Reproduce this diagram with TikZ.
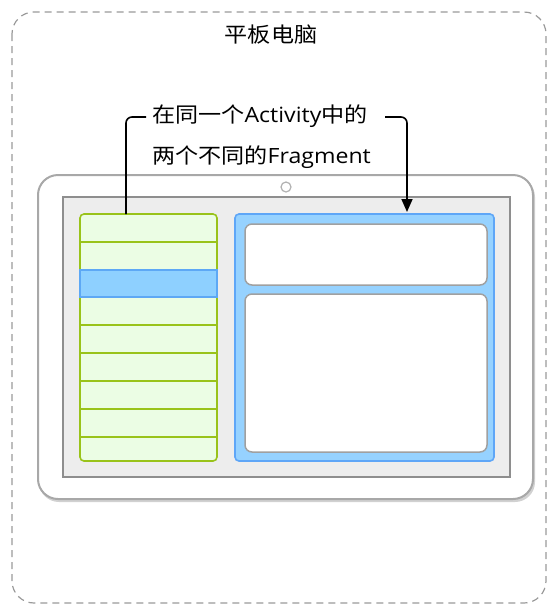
\documentclass[tikz,border=0pt]{standalone}
\usepackage{fontspec}
\newfontfamily\cjk{Noto Sans CJK SC}
\newfontfamily\lat{Open Sans}
\usetikzlibrary{arrows.meta}
\definecolor{dashgray}{HTML}{9A9A9A}
\definecolor{tabborder}{HTML}{A8A8A8}
\definecolor{scrborder}{HTML}{8E8E8E}
\definecolor{scrfill}{HTML}{EDEDED}
\definecolor{listgreen}{HTML}{99C31A}
\definecolor{listfill}{HTML}{EBFDE4}
\definecolor{selblue}{HTML}{5DA8F5}
\definecolor{selfill}{HTML}{8ED0FF}
\definecolor{paneborder}{HTML}{5EA6F7}
\definecolor{panefill}{HTML}{96D2FF}
\definecolor{boxborder}{HTML}{A0A0A0}
\newcommand{\wide}[1]{\scalebox{1.1}[1]{#1}}
\tikzset{
  outerbox/.style={draw=dashgray, dash pattern=on 7pt off 5pt, line width=1.2pt, rounded corners=22pt},
  tablet/.style={draw=tabborder, fill=white, line width=2pt, rounded corners=20pt},
  screen/.style={draw=scrborder, fill=scrfill, line width=2.5pt},
  listbox/.style={draw=listgreen, fill=listfill, line width=1.6pt, rounded corners=4pt},
  rowline/.style={draw=listgreen, line width=1.6pt},
  selrow/.style={draw=selblue, fill=selfill, line width=1.6pt},
  pane/.style={draw=paneborder, fill=panefill, line width=1.6pt, rounded corners=4pt},
  innerbox/.style={draw=boxborder, fill=white, line width=1.5pt, rounded corners=7pt},
  conn/.style={draw=black, line width=1.6pt, rounded corners=6pt},
  lbl/.style={font=\cjk\fontsize{21}{24}\selectfont, inner sep=0pt, anchor=west}
}
\begin{document}
\begin{tikzpicture}[x=1pt,y=-1pt]
\useasboundingbox (0,0) rectangle (550,606);
% outer dashed frame
\draw[outerbox] (12,12) rectangle (546,603);
\node[lbl, anchor=center] (title) at (271,35) {\wide{平板电脑}};
% tablet shadow and body
\draw[draw=none, fill=black!18, rounded corners=20pt] (39,177) rectangle (535,502);
\draw[tablet] (38,175) rectangle (533,499);
\draw[draw=gray!60, line width=1.2pt] (286,187) circle (5);
% screen
\draw[screen] (63,197) rectangle (510,477);
% list fragment
\draw[listbox] (80,214) rectangle (217,461);
\foreach \y in {242,325,353,381,409,437} {
  \draw[rowline] (80,\y) -- (218,\y);
}
\draw[selrow] (80,270) rectangle (217,297);
% detail fragment
\draw[pane] (235,214) rectangle (494,461);
\draw[innerbox] (245,224) rectangle (487,285);
\draw[innerbox] (245,294) rectangle (487,452);
% label
\node[lbl] (label1) at (152,116) {\wide{在同一个{\lat Activity}中的}};
\node[lbl] (label2) at (152,157) {\wide{两个不同的{\lat Fragment}}};
\coordinate (lstart) at (126,214);
\coordinate (lend) at (146,117);
\coordinate (rstart) at (385,117);
\coordinate (rend) at (407,212);
\draw[conn] (lstart) |- (lend);
\draw[conn, -{Triangle[length=13pt,width=11pt]}] (rstart) -| (rend);
\end{tikzpicture}
\end{document}
